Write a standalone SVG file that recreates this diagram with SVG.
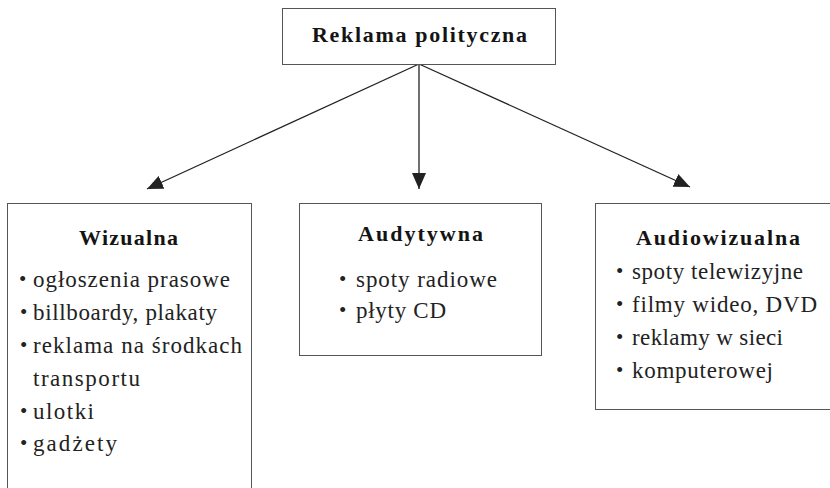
<svg xmlns="http://www.w3.org/2000/svg" width="830" height="488" viewBox="0 0 830 488">
  <style>
    .box { fill: #ffffff; stroke: #555555; stroke-width: 1; }
    .title { font-family: "Liberation Serif", "Times New Roman", serif; font-weight: bold; font-size: 22px; fill: #141414; }
    .item { font-family: "Liberation Serif", "Times New Roman", serif; font-size: 23px; fill: #222222; }
    .dot { font-family: "Liberation Serif", "Times New Roman", serif; font-size: 21px; fill: #222222; }
    .link { stroke: #222222; stroke-width: 1.3; fill: none; }
  </style>
  <defs>
    <marker id="head" viewBox="0 0 16 14" refX="16" refY="7" markerWidth="16" markerHeight="14" markerUnits="userSpaceOnUse" orient="auto">
      <path d="M0,0 L16,7 L0,14 Z" fill="#222222"/>
    </marker>
  </defs>

  <rect width="830" height="488" fill="#ffffff"/>

  <!-- connectors from the root node to the three categories -->
  <g id="connectors">
    <line class="link" x1="419" y1="64" x2="147" y2="189" marker-end="url(#head)"/>
    <line class="link" x1="419" y1="64" x2="419" y2="189" marker-end="url(#head)"/>
    <line class="link" x1="419" y1="64" x2="690" y2="187" marker-end="url(#head)"/>
  </g>

  <g id="root">
    <rect class="box" x="282.5" y="8.5" width="273" height="56"/>
    <text class="title" x="312" y="42" textLength="215" lengthAdjust="spacing">Reklama polityczna</text>
  </g>

  <g id="wizualna">
    <rect class="box" x="7.5" y="203.5" width="244" height="300"/>
    <text class="title" x="79" y="245" textLength="99" lengthAdjust="spacing">Wizualna</text>
    <text class="dot" x="19" y="286">•</text>
    <text class="item" x="33" y="287" textLength="197" lengthAdjust="spacing">ogłoszenia prasowe</text>
    <text class="dot" x="20" y="319">•</text>
    <text class="item" x="33" y="320" textLength="184" lengthAdjust="spacing">billboardy, plakaty</text>
    <text class="dot" x="20" y="352">•</text>
    <text class="item" x="33" y="353" textLength="209" lengthAdjust="spacing">reklama na środkach</text>
    <text class="item" x="33" y="386" textLength="107" lengthAdjust="spacing">transportu</text>
    <text class="dot" x="20" y="418">•</text>
    <text class="item" x="33" y="419" textLength="61" lengthAdjust="spacing">ulotki</text>
    <text class="dot" x="20" y="450">•</text>
    <text class="item" x="33" y="451" textLength="84" lengthAdjust="spacing">gadżety</text>
  </g>

  <g id="audytywna">
    <rect class="box" x="299.5" y="203.5" width="242" height="152"/>
    <text class="title" x="358" y="241" textLength="125" lengthAdjust="spacing">Audytywna</text>
    <text class="dot" x="339" y="286">•</text>
    <text class="item" x="356" y="287" textLength="141" lengthAdjust="spacing">spoty radiowe</text>
    <text class="dot" x="339" y="317">•</text>
    <text class="item" x="356" y="318" textLength="90" lengthAdjust="spacing">płyty CD</text>
  </g>

  <g id="audiowizualna">
    <rect class="box" x="595.5" y="203.5" width="250" height="206"/>
    <text class="title" x="636" y="245" textLength="164" lengthAdjust="spacing">Audiowizualna</text>
    <text class="dot" x="616" y="278">•</text>
    <text class="item" x="632" y="279" textLength="171" lengthAdjust="spacing">spoty telewizyjne</text>
    <text class="dot" x="616" y="311">•</text>
    <text class="item" x="632" y="312" textLength="185" lengthAdjust="spacing">filmy wideo, DVD</text>
    <text class="dot" x="616" y="344">•</text>
    <text class="item" x="632" y="345" textLength="151" lengthAdjust="spacing">reklamy w sieci</text>
    <text class="dot" x="616" y="377">•</text>
    <text class="item" x="632" y="378" textLength="141" lengthAdjust="spacing">komputerowej</text>
  </g>
</svg>
